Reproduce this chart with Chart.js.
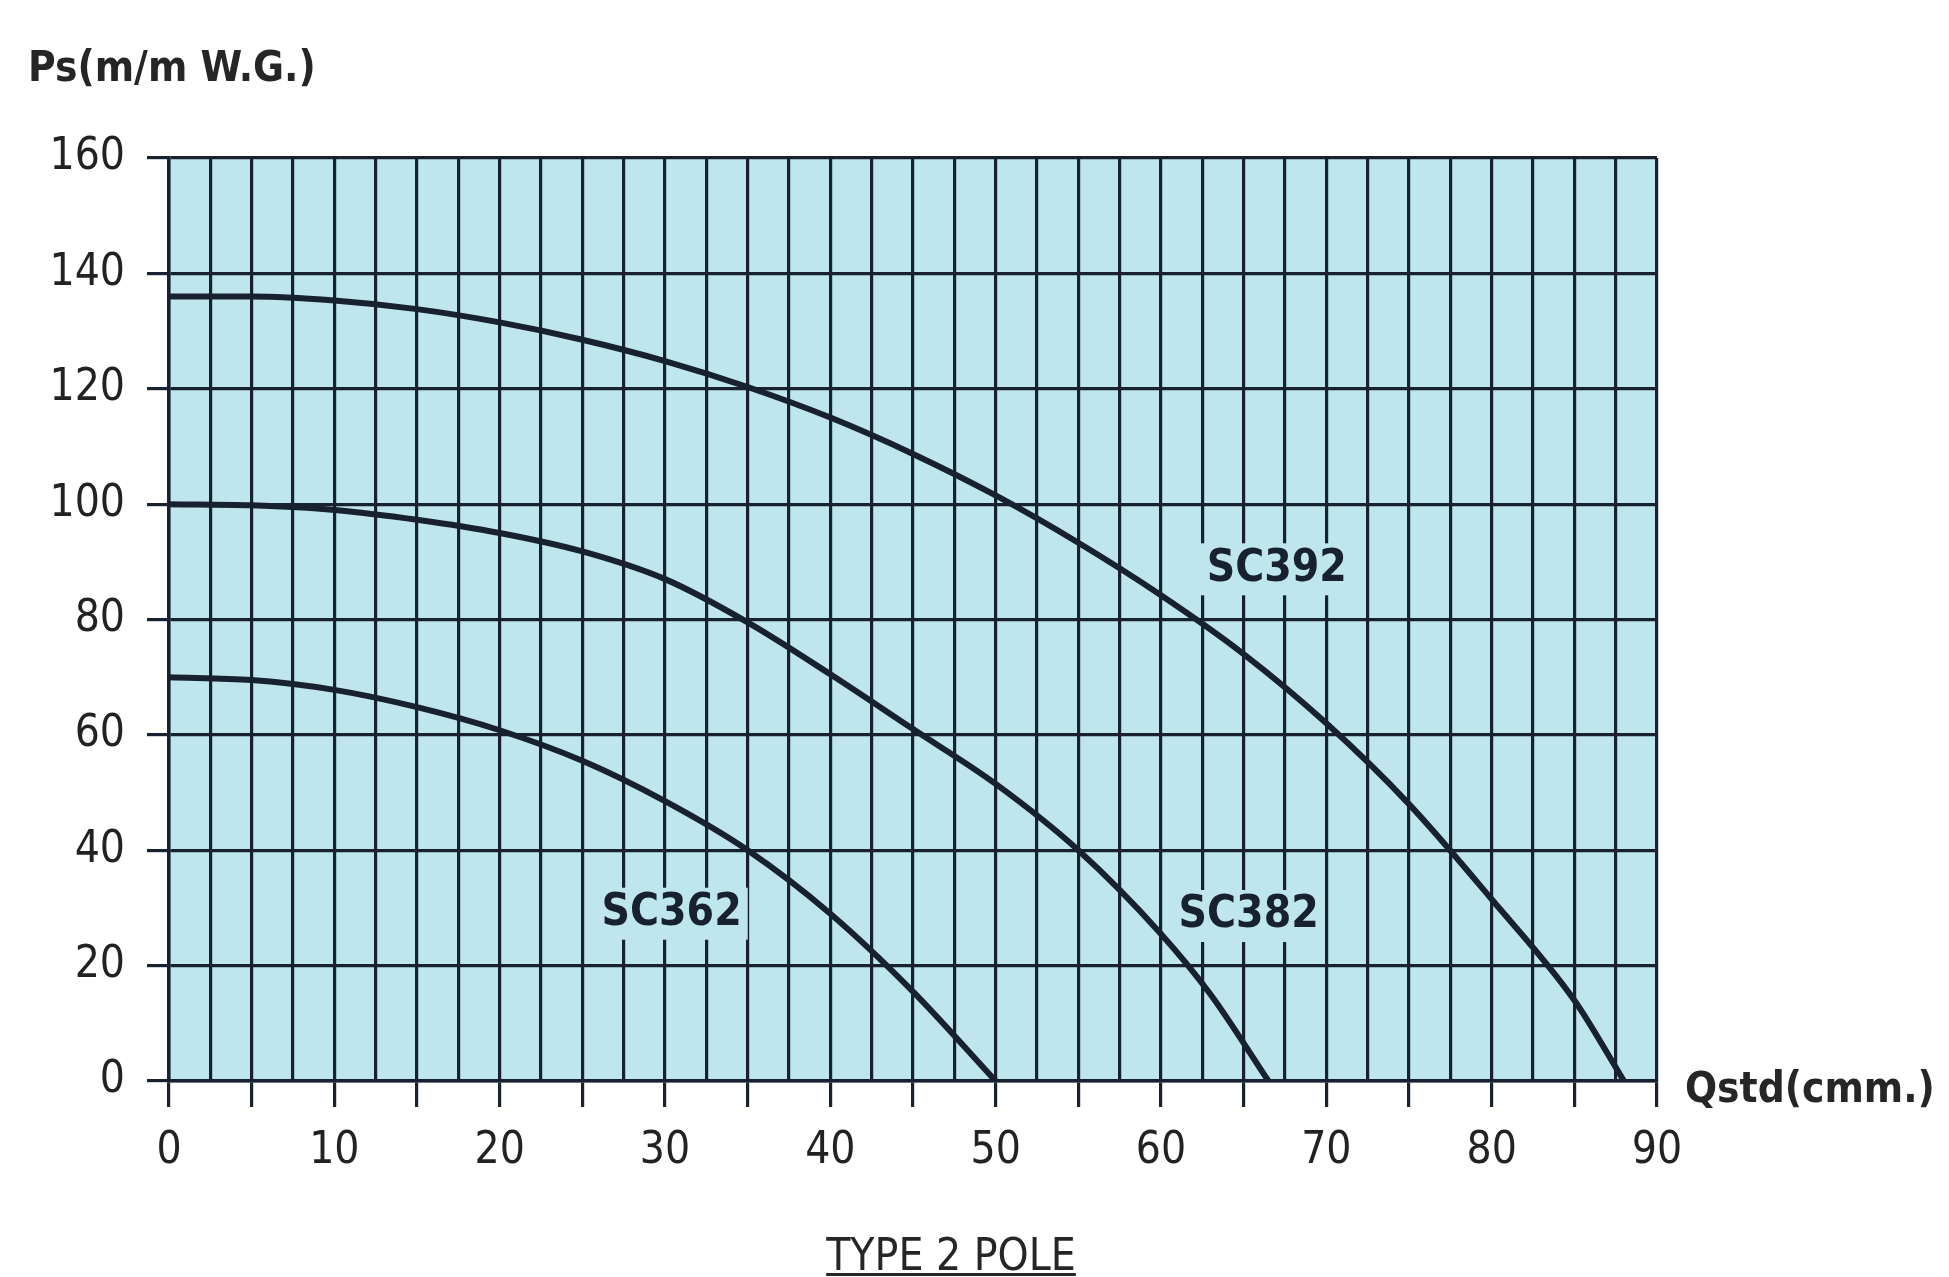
<!DOCTYPE html>
<html>
<head>
<meta charset="utf-8">
<title>TYPE 2 POLE</title>
<script src="https://cdn.jsdelivr.net/npm/chart.js@4.4.1/dist/chart.umd.min.js"></script>
<style>
body { margin:0; background:#fff; }
#wrap { width:1949px; height:1277px; }
</style>
</head>
<body>
<div id="wrap"><canvas id="c" width="1949" height="1277"></canvas></div>
<script>
// Qstd (cmm.) -> Ps (m/m W.G.)
var qSC362  = [0,5,10,15,20,25,30,35,40,45,50];
var psSC362 = [70,69.5,67.8,64.8,60.8,55.5,48.5,40,29,15.5,0];

var qSC382  = [0,5,10,15,20,25,30,35,40,45,50,55,60,63,66.5];
var psSC382 = [100,99.8,99,97.3,95,91.8,87,79.5,70.5,61,51.5,40,25.5,15,0];

var qSC392  = [0,5,10,15,20,25,30,35,40,45,50,55,60,65,70,75,80,85,88];
var psSC392 = [136,136,135.3,133.8,131.5,128.5,124.8,120.3,115,108.7,101.5,93.3,84.2,74,62,48,31.5,14,0];

var seriesNames = ['SC362','SC382','SC392'];
var labelQ  = [30.4, 65.3, 67.0];
var labelPs = [29, 28.6, 88.7];

var xTicks = [0,10,20,30,40,50,60,70,80,90];
var yTicks = [0,20,40,60,80,100,120,140,160];

var yTitle = 'Ps(m/m W.G.)';
var xTitle = 'Qstd(cmm.)';
var caption = 'TYPE 2 POLE';

var ink = '#18212f';
var paper = '#bfe6ee';
var fnt = '"DejaVu Sans Condensed", "DejaVu Sans", sans-serif';

function pts(q, p) {
    var out = [];
    for (var i = 0; i < q.length; i++) out.push({ x: q[i], y: p[i] });
    return out;
}

function ds(name, q, p) {
    return {
        label: name,
        data: pts(q, p),
        borderColor: ink,
        borderWidth: 6,
        pointRadius: 0,
        fill: false,
        cubicInterpolationMode: 'monotone'
    };
}

var decor = {
    id: 'decor',
    beforeDraw: function(chart) {
        var a = chart.chartArea, ctx = chart.ctx;
        ctx.save();
        ctx.fillStyle = paper;
        ctx.fillRect(a.left, a.top, a.right - a.left, a.bottom - a.top);
        ctx.restore();
    },
    afterDatasetsDraw: function(chart) {
        var ctx = chart.ctx, xs = chart.scales.x, ys = chart.scales.y;
        ctx.save();
        ctx.font = 'bold 44px ' + fnt;
        ctx.textAlign = 'center';
        ctx.textBaseline = 'middle';
        for (var i = 0; i < seriesNames.length; i++) {
            var px = xs.getPixelForValue(labelQ[i]);
            var py = ys.getPixelForValue(labelPs[i]);
            var w = ctx.measureText(seriesNames[i]).width;
            ctx.fillStyle = paper;
            ctx.fillRect(px - w / 2 - 6, py - 26, w + 12, 52);
            ctx.fillStyle = ink;
            ctx.fillText(seriesNames[i], px, py);
        }
        ctx.restore();
    },
    afterDraw: function(chart) {
        var ctx = chart.ctx, a = chart.chartArea;
        ctx.save();
        ctx.fillStyle = '#262626';
        ctx.textBaseline = 'middle';
        ctx.font = 'bold 42px ' + fnt;
        ctx.textAlign = 'left';
        ctx.fillText(yTitle, 28, 70);
        ctx.fillText(xTitle, a.right + 28, a.bottom + 10);

        ctx.font = '44px ' + fnt;
        ctx.textAlign = 'center';
        ctx.textBaseline = 'alphabetic';
        var cx = 951, by = 1270;
        ctx.fillText(caption, cx, by);
        var w = ctx.measureText(caption).width;
        ctx.fillRect(cx - w / 2, by + 3, w, 3);
        ctx.restore();
    }
};

new Chart(document.getElementById('c'), {
    type: 'line',
    data: { datasets: [ ds(seriesNames[0], qSC362, psSC362), ds(seriesNames[1], qSC382, psSC382), ds(seriesNames[2], qSC392, psSC392) ] },
    options: {
        responsive: false,
        animation: false,
        devicePixelRatio: 1,
        layout: { padding: { left: 0, top: 158, right: 292, bottom: 0 } },
        plugins: { legend: { display: false }, tooltip: { enabled: false } },
        scales: {
            x: {
                type: 'linear', min: 0, max: 90,
                afterFit: function(s) { s.height = 196; },
                afterBuildTicks: function(s) {
                    var t = [];
                    for (var v = 0; v <= 90; v += 2.5) t.push({ value: v });
                    s.ticks = t;
                },
                border: { color: ink, width: 3.5 },
                grid: {
                    color: ink, lineWidth: 3.2, tickLength: 26,
                    tickColor: function(c) { return (c.tick && c.tick.value % 5 === 0) ? ink : 'rgba(0,0,0,0)'; }
                },
                ticks: {
                    padding: 18, color: '#222', maxRotation: 0, autoSkip: false,
                    font: { family: fnt, size: 44 },
                    callback: function(v) { return xTicks.indexOf(v) >= 0 ? String(v) : ''; }
                }
            },
            y: {
                min: 0, max: 160,
                afterFit: function(s) { s.width = 169; },
                afterBuildTicks: function(s) { s.ticks = yTicks.map(function(v) { return { value: v }; }); },
                border: { color: ink, width: 3.5 },
                grid: { color: ink, lineWidth: 3.2, tickLength: 22, tickColor: ink },
                ticks: { padding: 22, color: '#222', font: { family: fnt, size: 44 } }
            }
        }
    },
    plugins: [decor]
});
</script>
</body>
</html>
